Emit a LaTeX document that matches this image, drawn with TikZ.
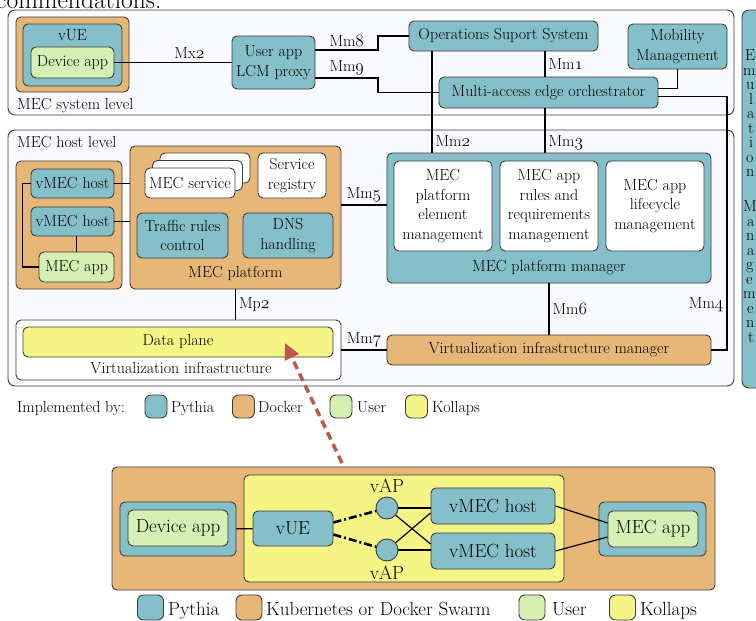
\documentclass[tikz,border=0pt]{standalone}
\usetikzlibrary{calc}
\usetikzlibrary{arrows.meta}

\definecolor{pythiacol}{HTML}{85BFCA}
\definecolor{dockercol}{HTML}{E6B777}
\definecolor{usercol}{HTML}{D5F0B2}
\definecolor{kollapscol}{HTML}{F4F585}
\definecolor{levelcol}{HTML}{F9FAFD}
\definecolor{edgecol}{HTML}{3C3C3C}
\definecolor{arrowcol}{HTML}{C0584A}

% old style figures for the interface names
\newcommand\osnum[1]{{\usefont{OML}{lmm}{m}{it}#1}}

\tikzset{
  box/.style={draw=edgecol, line width=0.9pt, rounded corners=5pt, inner sep=0pt, align=center},
  pythia/.style={box, fill=pythiacol},
  docker/.style={box, fill=dockercol},
  user/.style={box, fill=usercol},
  kollaps/.style={box, fill=kollapscol},
  plain/.style={box, fill=white},
  level/.style={box, fill=levelcol, rounded corners=7pt},
  sz/.style 2 args={minimum width=#1, minimum height=#2},
  swatch/.style={rounded corners=6pt, minimum width=22, minimum height=23},
  vap/.style={circle, draw=edgecol, fill=pythiacol, line width=0.9pt, minimum size=22, inner sep=0pt},
  lbl/.style={inner sep=0pt},
  tag/.style={inner sep=3pt},
  wire/.style={line width=1.2pt, black},
  wifi/.style={line width=2.6pt, black, dash pattern=on 8pt off 3pt on 2pt off 3pt},
}

\begin{document}
\begin{tikzpicture}[x=1pt,y=-1pt,font=\fontsize{16}{19.5}\selectfont]
\useasboundingbox (0,0) rectangle (756,621);
\clip (0,0) rectangle (756,621);
\fill[white] (0,0) rectangle (756,621);

% page text round the figure
\node[lbl, anchor=base west, font=\fontsize{25.5}{30}\selectfont] (pagetext) at (-4,9) {commendations.};
\node[pythia, rounded corners=7pt, sz={40}{378}] (sidebox) at (762,199) {};
\foreach \ch/\x/\y in {E/745/60.5, m/743/75, u/746/89.5, l/749/104, a/747/118.5, t/748/133, i/749/147.5,
    o/746/162, n/746/176.5, M/743/211.5, a/747/226, n/746/240.5, a/747/255, g/746/269.5, e/746/284,
    m/743/298.5, e/747/313, n/746/327.5, t/748/342}
  \node[lbl, anchor=base west, font=\fontsize{16}{16}\selectfont] at (\x,\y) {\ch};

% MEC system level
\node[level, sz={726}{105}] (syslevel) at (371,62.5) {};
\node[lbl, anchor=base west] at (17,109) {MEC system level};
\node[docker, sz={113}{75}] (vuedock) at (72.5,54.5) {};
\node[pythia, sz={99}{62}] (vue) at (72.5,55) {};
\node[lbl, anchor=base] at (72.5,41) {vUE};
\node[user, sz={83}{31}] (devapp) at (72.5,62.5) {Device app};
\node[pythia, sz={83}{53}] (lcm) at (273.5,62.5) {User app\\LCM proxy};
\node[pythia, sz={189}{30}] (oss) at (503.5,36) {Operations Suport System};
\node[pythia, sz={99}{45}] (mob) at (677.5,46.5) {Mobility\\Management};
\node[pythia, sz={219}{31}] (meo) at (548.5,92.5) {Multi-access edge orchestrator};

% MEC host level
\node[level, sz={726}{256}] (hostlevel) at (371,258) {};
\node[lbl, anchor=base west] at (17,147) {MEC host level};
\node[docker, sz={106}{128}] (hostdock) at (69,225) {};
\node[pythia, sz={83}{29}] (vh1) at (72.5,183.5) {vMEC host};
\node[pythia, sz={83}{29}] (vh2) at (72.5,221.5) {vMEC host};
\node[user, sz={75}{30}] (hostapp) at (76.5,267) {MEC app};
\node[docker, sz={211}{143}] (platform) at (235.5,217.5) {};
\node[lbl] at (235.5,273) {MEC platform};
\node[plain, sz={90}{30}] (svc3) at (205,168) {};
\node[plain, sz={90}{30}] (svc2) at (197.5,175.5) {};
\node[plain, sz={90}{30}] (svc) at (190,183) {MEC service};
\node[plain, sz={68}{45}] (registry) at (292,175.5) {Service\\registry};
\node[pythia, sz={91}{45}] (traffic) at (182.5,235.5) {Traffic rules\\control};
\node[pythia, sz={90}{45}] (dns) at (288,235.5) {DNS\\handling};
\node[plain, sz={325}{60}] (vi) at (178.5,350) {};
\node[kollaps, sz={310}{30}] (dataplane) at (178,342) {Data plane};
\node[lbl] at (181,368) {Virtualization infrastructure};
\node[pythia, sz={324}{130}] (pm) at (549,218) {};
\node[lbl] at (549,268) {MEC platform manager};
\node[plain, sz={98}{90}] (pm1) at (443,206) {MEC\\platform\\element\\management};
\node[plain, sz={98}{90}] (pm2) at (549,206) {MEC app\\rules and\\requirements\\management};
\node[plain, sz={98}{90}] (pm3) at (655,206) {MEC app\\lifecycle\\management};
\node[docker, sz={324}{30}] (vim) at (549,350) {Virtualization infrastructure manager};

% reference points
\coordinate (xbend) at (378,0);
\coordinate (xmm1) at (545,0);
\coordinate (xmm2) at (432,0);
\coordinate (xmm4) at (727,0);
\coordinate (mm5) at ($(platform.east)+(0,-12.5)$);

% interfaces
\draw[wire] (devapp) -- node[tag, above, pos=0.64]{Mx\osnum{2}} (lcm);
\draw[wire] ($(lcm.east)+(0,-12.5)$) -- node[tag, above]{Mm\osnum{8}} (xbend |- 0,50) |- (oss);
\draw[wire] ($(lcm.east)+(0,15.5)$) -- node[tag, above]{Mm\osnum{9}} (xbend |- 0,78) |- (meo);
\draw[wire] (oss.south -| xmm1) -- node[tag, right]{Mm\osnum{1}} (meo.north -| xmm1);
\draw[wire] (mob) |- ($(meo.east)+(0,-4)$);
\draw[wire] ($(meo.east)+(0,4)$) -| node[tag, pos=0.91, left]{Mm\osnum{4}} (xmm4 |- vim.east) -- (vim);
\draw[wire] (oss.south -| xmm2) -- node[tag, pos=0.89, right]{Mm\osnum{2}} (pm.north -| xmm2);
\draw[wire] (meo.south -| xmm1) -- node[tag, pos=0.78, right]{Mm\osnum{3}} (pm.north -| xmm1);
\draw[wire] (vh1) -- (vh1 -| platform.west);
\draw[wire] (vh2) -- (vh2 -| platform.west);
\draw[wire] (hostapp.north |- vh2.south) -- (hostapp.north);
\draw[wire] (vh1.west) -- ++(-8,0) |- (hostapp.west);
\draw[wire] (mm5) -- node[tag, above]{Mm\osnum{5}} (mm5 -| pm.west);
\draw[wire] (platform.south) -- node[tag, right]{Mp\osnum{2}} (platform.south |- vi.north);
\draw[wire] (vi) -- node[tag, above]{Mm\osnum{7}} (vim);
\draw[wire] (pm) -- node[tag, right]{Mm\osnum{6}} (vim);

% legend
\node[lbl, anchor=base west] at (17,412.5) {Implemented by:};
\node[pythia, swatch] (leg1) at (156,406.5) {};
\node[lbl, anchor=base west] at (171,412.5) {Pythia};
\node[docker, swatch] (leg2) at (243.5,406.5) {};
\node[lbl, anchor=base west] at (258,412.5) {Docker};
\node[user, swatch] (leg3) at (341,406.5) {};
\node[lbl, anchor=base west] at (357,412.5) {User};
\node[kollaps, swatch] (leg4) at (416.5,406.5) {};
\node[lbl, anchor=base west] at (432,412.5) {Kollaps};

% emulated set-up
\begin{scope}[font=\fontsize{19}{22}\selectfont]
  \node[docker, sz={603}{123}] (swarm) at (413.5,528.5) {};
  \node[kollaps, sz={320}{107}] (emul) at (404,528.5) {};
  \node[pythia, sz={116}{54}] (devbox) at (178,529) {};
  \node[user, sz={100}{36}] (devapp2) at (178,528) {Device app};
  \node[pythia, sz={80}{35}] (vue2) at (293,528.5) {vUE};
  \node[vap, label={[lbl, inner sep=4pt]above:vAP}] (vap1) at (387,508) {};
  \node[vap, label={[lbl, inner sep=4pt]below:vAP}] (vap2) at (387,550) {};
  \node[pythia, sz={124}{36}] (vmh1) at (493,506) {vMEC host};
  \node[pythia, sz={124}{36}] (vmh2) at (493,551) {vMEC host};
  \node[pythia, sz={107}{54}] (appbox) at (652.5,529) {};
  \node[user, sz={90}{36}] (mecapp) at (653,529) {MEC app};

  \draw[wire] (devbox) -- (vue2);
  \draw[wifi] ($(vue2.east)+(0,-6)$) -- (vap1);
  \draw[wifi] ($(vue2.east)+(0,6)$) -- (vap2);
  \draw[wire] (vap1) -- (vap1 -| vmh1.west);
  \draw[wire] (vap2) -- (vap2 -| vmh2.west);
  \draw[wire] (vap1) -- ($(vmh2.west)+(0,-7)$);
  \draw[wire] (vap2) -- ($(vmh1.west)+(0,7)$);
  \draw[wire] (vmh1.east) -- ($(mecapp.west)+(0,-6)$);
  \draw[wire] (vmh2.east) -- ($(mecapp.west)+(0,8)$);

  \node[pythia, swatch, minimum width=26, minimum height=25] (leg5) at (150.5,607.5) {};
  \node[lbl, anchor=base west] at (168,615) {Pythia};
  \node[docker, swatch, minimum width=26, minimum height=25] (leg6) at (249,607.5) {};
  \node[lbl, anchor=base west] at (266,615) {Kubernetes or Docker Swarm};
  \node[user, swatch, minimum width=26, minimum height=25] (leg7) at (532,607.5) {};
  \node[lbl, anchor=base west] at (552,615) {User};
  \node[kollaps, swatch, minimum width=26, minimum height=25] (leg8) at (622.5,607.5) {};
  \node[lbl, anchor=base west] at (640,615) {Kollaps};
\end{scope}

% the data plane is emulated by the set-up below
\coordinate (tail) at (342,463);
\coordinate (tip) at (285,343);
\draw[arrowcol, line width=3.5pt, dash pattern=on 8pt off 5pt, -{Triangle[length=16pt,width=15pt]}] (tail) -- (tip);
\end{tikzpicture}
\end{document}
